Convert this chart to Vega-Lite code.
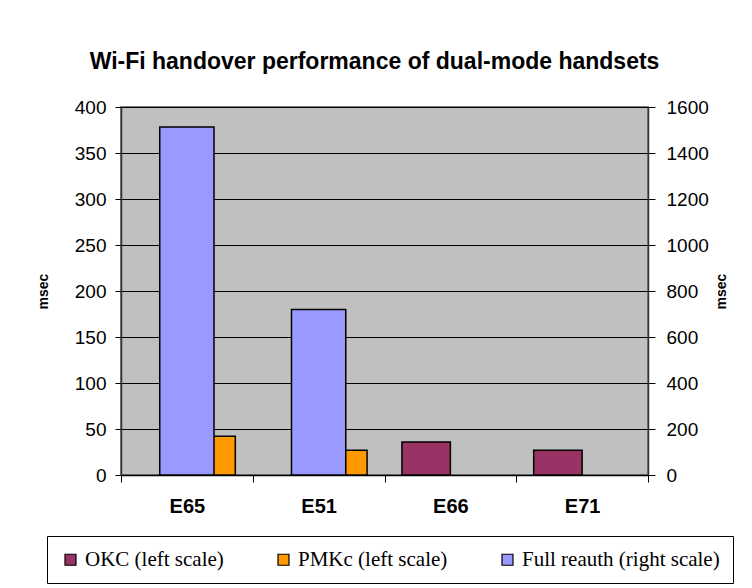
{
  "$schema": "https://vega.github.io/schema/vega-lite/v6.json",
  "width": 527,
  "height": 368,
  "autosize": {"type": "none"},
  "padding": {"left": 121, "top": 107, "right": 104, "bottom": 113},
  "background": "white",
  "title": {
    "text": "Wi-Fi handover performance of dual-mode handsets",
    "font": "Liberation Sans",
    "fontSize": 23,
    "fontWeight": "bold",
    "color": "black",
    "anchor": "middle",
    "frame": "group",
    "offset": 24,
    "dx": -10
  },
  "data": {
    "values": [
      {"device": "E65", "series": "Full reauth (right scale)", "value": 1513},
      {"device": "E65", "series": "PMKc (left scale)", "value": 42},
      {"device": "E51", "series": "Full reauth (right scale)", "value": 720},
      {"device": "E51", "series": "PMKc (left scale)", "value": 27},
      {"device": "E66", "series": "OKC (left scale)", "value": 36},
      {"device": "E71", "series": "OKC (left scale)", "value": 27}
    ]
  },
  "encoding": {
    "x": {
      "field": "device",
      "type": "nominal",
      "sort": ["E65", "E51", "E66", "E71"],
      "scale": {"paddingInner": 0, "paddingOuter": 0},
      "axis": {
        "title": null,
        "labelAngle": 0,
        "labelFont": "Liberation Sans",
        "labelFontSize": 20,
        "labelFontWeight": "bold",
        "labelColor": "black",
        "labelPadding": 14,
        "tickBand": "extent",
        "tickSize": 7,
        "tickColor": "black",
        "tickWidth": 1,
        "domainColor": "black",
        "domainWidth": 1.5,
        "grid": false
      }
    }
  },
  "layer": [
    {
      "transform": [{"filter": "datum.series != 'Full reauth (right scale)'"}],
      "mark": {"type": "bar", "stroke": "black", "strokeWidth": 1.5},
      "encoding": {
        "xOffset": {
          "field": "series",
          "type": "nominal",
          "scale": {"domain": ["OKC (left scale)", "PMKc (left scale)"], "paddingInner": 0, "paddingOuter": 0.36}
        },
        "y": {
          "field": "value",
          "type": "quantitative",
          "scale": {"domain": [0, 400], "nice": false},
          "axis": {
            "orient": "left",
            "values": [0, 50, 100, 150, 200, 250, 300, 350, 400],
            "grid": true,
            "gridColor": "black",
            "gridWidth": 1,
            "gridOpacity": 1,
            "domainColor": "#333333",
            "domainWidth": 1.5,
            "tickColor": "black",
            "tickSize": 6,
            "tickWidth": 1,
            "labelFont": "Liberation Sans",
            "labelFontSize": 19,
            "labelColor": "black",
            "labelPadding": 9,
            "title": "msec",
            "titleFont": "Liberation Sans",
            "titleFontSize": 14,
            "titleFontWeight": "bold",
            "titleColor": "black",
            "titlePadding": 24
          }
        },
        "color": {
          "field": "series",
          "type": "nominal",
          "scale": {
            "domain": ["OKC (left scale)", "PMKc (left scale)", "Full reauth (right scale)"],
            "range": ["#993366", "#FF9900", "#9999FF"]
          },
          "legend": {
            "orient": "none",
            "legendX": -74,
            "legendY": 429,
            "direction": "horizontal",
            "columns": 3,
            "title": null,
            "symbolType": "square",
            "symbolSize": 121,
            "symbolStrokeColor": "black",
            "symbolStrokeWidth": 1.2,
            "symbolOpacity": 1,
            "labelFont": "Liberation Serif",
            "labelFontSize": 21,
            "labelColor": "black",
            "labelLimit": 300,
            "labelOffset": 4,
            "columnPadding": 49,
            "strokeColor": "black",
            "fillColor": "white",
            "padding": 13
          }
        }
      }
    },
    {
      "transform": [{"filter": "datum.series == 'Full reauth (right scale)'"}],
      "mark": {"type": "bar", "stroke": "black", "strokeWidth": 1.5, "width": {"band": 0.412}},
      "encoding": {
        "y": {
          "field": "value",
          "type": "quantitative",
          "scale": {"domain": [0, 1600], "nice": false},
          "axis": {
            "orient": "right",
            "values": [0, 200, 400, 600, 800, 1000, 1200, 1400, 1600],
            "format": "d",
            "grid": false,
            "domainColor": "#333333",
            "domainWidth": 1.5,
            "tickColor": "black",
            "tickSize": 7,
            "tickWidth": 1,
            "labelFont": "Liberation Sans",
            "labelFontSize": 19,
            "labelColor": "black",
            "labelPadding": 11,
            "title": "msec",
            "titleAngle": 270,
            "titleFont": "Liberation Sans",
            "titleFontSize": 14,
            "titleFontWeight": "bold",
            "titleColor": "black",
            "titlePadding": 20
          }
        },
        "color": {"field": "series", "type": "nominal"}
      }
    }
  ],
  "resolve": {"scale": {"y": "independent"}},
  "config": {
    "view": {"fill": "#C0C0C0", "stroke": "#808080", "strokeWidth": 2}
  }
}
